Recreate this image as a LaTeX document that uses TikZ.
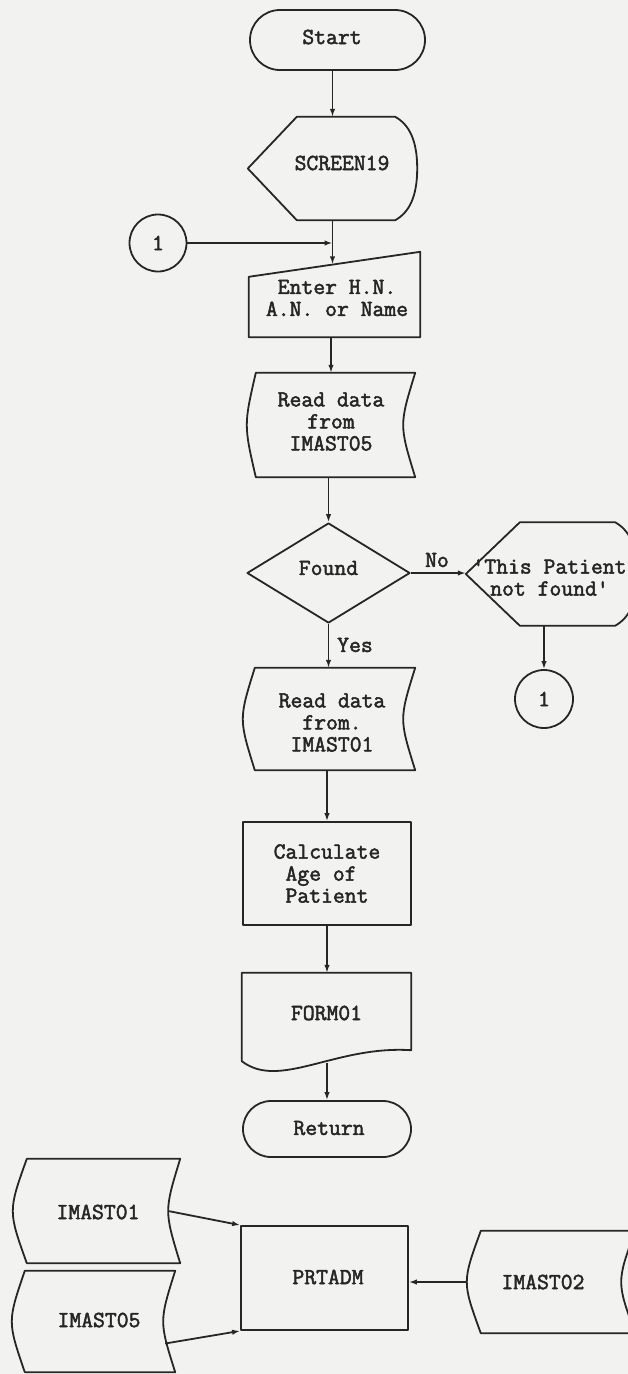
\documentclass[tikz,border=0pt]{standalone}
\usepackage{fontspec}
\newfontfamily\tw{Latin Modern Mono}[FakeBold=2.2]
\usetikzlibrary{shapes.misc,shapes.geometric,arrows.meta,calc}
\definecolor{bg}{RGB}{242,242,240}
\definecolor{ink}{RGB}{38,38,38}
% stored data outline: node, left depth, right depth
\newcommand\stdata[3]{%
  \draw[ln] ($(#1.north west)+(#2,0)$) -- (#1.north east)
    .. controls ($(#1.east)+({-4*#3/3},0)$) .. (#1.south east)
    -- ($(#1.south west)+(#2,0)$)
    .. controls ($(#1.west)+({-#2/3},0)$) .. ($(#1.north west)+(#2,0)$) -- cycle;}
% display outline: node, left slant width, right bulge
\newcommand\dispshape[3]{%
  \draw[ln] (#1.west) -- ($(#1.north west)+(#2,0)$) -- ($(#1.north east)+(-#3,0)$)
    .. controls ($(#1.north east)+({-0.35*#3},8)$) and ($(#1.north east)+(0,24)$) .. (#1.east)
    .. controls ($(#1.south east)+(0,-24)$) and ($(#1.south east)+({-0.35*#3},-8)$) .. ($(#1.south east)+(-#3,0)$)
    -- ($(#1.south west)+(#2,0)$) -- cycle;}
\begin{document}
\begin{tikzpicture}[x=1pt,y=-1pt,
  ln/.style={draw=ink,line width=1.8pt,line join=round},
  arr/.style={ln,-{Latex[length=8pt,width=5.5pt]}},
  txt/.style={font=\tw\fontsize{23pt}{22pt}\selectfont,text=ink,align=center,inner sep=0pt},
  sz/.style 2 args={minimum width=#1pt,minimum height=#2pt,inner sep=0pt}]
\useasboundingbox (0,0) rectangle (628,1374);
\clip (0,0) rectangle (628,1374);
\fill[bg] (0,0) rectangle (628,1374);

% main column
\node[rounded rectangle, ln, sz={175}{60}, label={[txt,xshift=-5.5pt,yshift=3pt]center:Start}] (start) at (337.5,40) {};

\node[sz={169}{103}, label={[txt,xshift=9.5pt,yshift=5.5pt]center:SCREEN19}] (screen) at (332.5,168.5) {};
\dispshape{screen}{49}{22}

\node[circle, ln, minimum size=57pt, inner sep=0pt, label={[txt]center:1}] (c1) at (158,243) {};

\node[sz={171}{85}, label={[txt,xshift=2.5pt,yshift=-3.5pt]center:{Enter H.N.\\A.N. or Name}}] (enter) at (334.5,294.5) {};
\draw[ln] ($(enter.north west)+(0,25)$) -- (enter.north east) -- (enter.south east) -- (enter.south west) -- cycle;
\coordinate (enterTop) at ($(enter.north west)!0.5!(enter.north east)+(0,12.5)$);

\node[sz={168}{104}, label={[txt,yshift=3.5pt]center:{Read data\\from\\IMAST05}}] (rd5) at (331,425) {};
\stdata{rd5}{9}{12}

\node[diamond, ln, sz={163}{100}, label={[txt,yshift=5pt]center:Found}] (found) at (328.5,573) {};

\node[sz={171}{103}, label={[txt,xshift=-2pt,yshift=-3.5pt]center:{'This Patient\\not found'}}] (msg) at (551.5,574) {};
\dispshape{msg}{54}{22}

\node[circle, ln, minimum size=58pt, inner sep=0pt, label={[txt]center:1}] (c2) at (544,699) {};

\node[txt] (no) at (437,560) {No};
\node[txt] (yes) at (355,645) {Yes};

\node[sz={172}{102}, label={[txt,xshift=3pt,yshift=-3.5pt]center:{Read data\\from.\\IMAST01}}] (rd1) at (329,719) {};
\stdata{rd1}{12}{12}

\node[rectangle, ln, sz={168}{103}, label={[txt]center:{Calculate\\Age of\hphantom{x}\\Patient}}] (calc) at (327,873.5) {};

\node[sz={169}{90}, label={[txt,yshift=5pt]center:FORM01}] (form) at (326.5,1018) {};
\draw[ln] (form.north west) -- (form.north east) -- ($(form.south east)+(0,-13)$)
  .. controls ($(form.south east)+(-76,-18)$) and ($(form.south west)+(38,27)$) .. ($(form.south west)+(0,-2)$) -- cycle;

\node[rounded rectangle, ln, sz={168}{56}, label={[txt,xshift=2pt,yshift=1pt]center:Return}] (ret) at (327,1129) {};

% bottom row
\node[sz={167}{104}, label={[txt,xshift=1.5pt,yshift=-1pt]center:IMAST01}] (b1) at (96.5,1211) {};
\stdata{b1}{14}{12}
\node[sz={163}{101}, label={[txt,xshift=5.5pt,yshift=1.5pt]center:IMAST05}] (b5) at (93.5,1321.5) {};
\stdata{b5}{13}{12}
\node[rectangle, ln, sz={167}{104}, label={[txt,xshift=3.5pt,yshift=1pt]center:PRTADM}] (prt) at (324.5,1278) {};
\node[sz={168}{102}, label={[txt,xshift=-8pt]center:IMAST02}] (b2) at (551,1282) {};
\stdata{b2}{14}{14}

% connectors
\draw[arr] (start.south -| screen.north) -- (screen.north);
\draw[arr] (c1.east) -- (c1.east -| screen.south);
\draw[arr] (screen.south) -- (screen.south |- enterTop);
\draw[arr] (enter.south -| rd5.north) -- (rd5.north);
\draw[arr] (rd5.south -| found.north) -- (found.north);
\draw[arr] (found.east) -- (found.east -| msg.west);
\draw[arr] (c2.north |- msg.south) -- (c2.north);
\draw[arr] (found.south) -- (found.south |- rd1.north);
\draw[arr] (rd1.south -| calc.north) -- (calc.north);
\draw[arr] (calc.south) -- (calc.south |- form.north);
\draw[arr] (form.south -| ret.north) -- (ret.north);
\draw[arr] ($(b1.east)+(-12,0)$) -- (prt.north west);
\draw[arr] ($(b5.east)+(-10,22)$) -- (prt.south west);
\draw[arr] (b2.west) -- (b2.west -| prt.east);
\end{tikzpicture}
\end{document}
